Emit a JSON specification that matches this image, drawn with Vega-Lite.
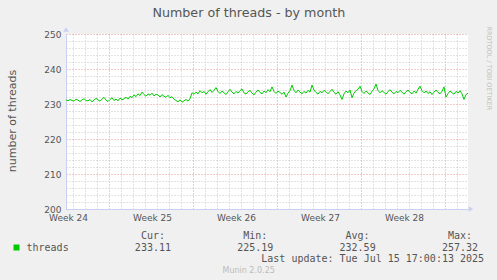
{
"$schema": "https://vega.github.io/schema/vega-lite/v6.json",
"background": "#f0f0f0",
"padding": {"left": 6, "top": 7, "right": 5, "bottom": 5},
"title": {"text": "Number of threads - by month", "font": "DejaVu Sans", "fontSize": 12.7, "fontWeight": "normal", "color": "#555555", "anchor": "middle", "offset": 6},
"datasets": {
"threads": [
{"t":"2025-06-12T10:00Z","v":231.2},{"t":"2025-06-12T14:00Z","v":230.9},{"t":"2025-06-12T18:00Z","v":231.3},{"t":"2025-06-12T22:00Z","v":231.0},
{"t":"2025-06-13T02:00Z","v":230.8},{"t":"2025-06-13T06:00Z","v":231.4},{"t":"2025-06-13T10:00Z","v":231.1},{"t":"2025-06-13T14:00Z","v":230.7},{"t":"2025-06-13T18:00Z","v":231.2},{"t":"2025-06-13T22:00Z","v":231.5},
{"t":"2025-06-14T02:00Z","v":231.0},{"t":"2025-06-14T06:00Z","v":230.9},{"t":"2025-06-14T10:00Z","v":231.3},{"t":"2025-06-14T14:00Z","v":230.6},{"t":"2025-06-14T18:00Z","v":231.1},{"t":"2025-06-14T22:00Z","v":231.6},
{"t":"2025-06-15T02:00Z","v":231.2},{"t":"2025-06-15T06:00Z","v":230.8},{"t":"2025-06-15T10:00Z","v":231.4},{"t":"2025-06-15T14:00Z","v":231.9},{"t":"2025-06-15T18:00Z","v":231.1},{"t":"2025-06-15T22:00Z","v":230.7},
{"t":"2025-06-16T02:00Z","v":231.3},{"t":"2025-06-16T06:00Z","v":231.8},{"t":"2025-06-16T10:00Z","v":231.0},{"t":"2025-06-16T14:00Z","v":231.4},{"t":"2025-06-16T18:00Z","v":230.9},{"t":"2025-06-16T22:00Z","v":231.7},
{"t":"2025-06-17T02:00Z","v":231.2},{"t":"2025-06-17T06:00Z","v":231.5},{"t":"2025-06-17T10:00Z","v":231.9},{"t":"2025-06-17T14:00Z","v":231.4},{"t":"2025-06-17T18:00Z","v":232.2},{"t":"2025-06-17T22:00Z","v":231.8},
{"t":"2025-06-18T02:00Z","v":232.6},{"t":"2025-06-18T06:00Z","v":232.1},{"t":"2025-06-18T10:00Z","v":232.9},{"t":"2025-06-18T14:00Z","v":232.4},{"t":"2025-06-18T18:00Z","v":233.4},{"t":"2025-06-18T22:00Z","v":232.7},
{"t":"2025-06-19T02:00Z","v":232.2},{"t":"2025-06-19T06:00Z","v":232.9},{"t":"2025-06-19T10:00Z","v":232.5},{"t":"2025-06-19T14:00Z","v":233.1},{"t":"2025-06-19T18:00Z","v":232.3},{"t":"2025-06-19T22:00Z","v":232.8},
{"t":"2025-06-20T02:00Z","v":232.6},{"t":"2025-06-20T06:00Z","v":232.0},{"t":"2025-06-20T10:00Z","v":232.7},{"t":"2025-06-20T14:00Z","v":232.2},{"t":"2025-06-20T18:00Z","v":231.9},{"t":"2025-06-20T22:00Z","v":232.5},
{"t":"2025-06-21T02:00Z","v":231.8},{"t":"2025-06-21T06:00Z","v":232.1},{"t":"2025-06-21T10:00Z","v":231.4},{"t":"2025-06-21T14:00Z","v":231.0},{"t":"2025-06-21T18:00Z","v":230.6},{"t":"2025-06-21T22:00Z","v":231.2},
{"t":"2025-06-22T02:00Z","v":230.5},{"t":"2025-06-22T06:00Z","v":230.9},{"t":"2025-06-22T10:00Z","v":231.3},{"t":"2025-06-22T14:00Z","v":230.8},{"t":"2025-06-22T18:00Z","v":231.5},{"t":"2025-06-22T22:00Z","v":233.2},
{"t":"2025-06-23T02:00Z","v":232.8},{"t":"2025-06-23T06:00Z","v":233.4},{"t":"2025-06-23T10:00Z","v":232.9},{"t":"2025-06-23T14:00Z","v":233.8},{"t":"2025-06-23T18:00Z","v":233.2},{"t":"2025-06-23T22:00Z","v":233.6},
{"t":"2025-06-24T02:00Z","v":232.8},{"t":"2025-06-24T06:00Z","v":233.5},{"t":"2025-06-24T10:00Z","v":234.1},{"t":"2025-06-24T14:00Z","v":233.3},{"t":"2025-06-24T18:00Z","v":233.9},{"t":"2025-06-24T22:00Z","v":234.7},
{"t":"2025-06-25T02:00Z","v":233.6},{"t":"2025-06-25T06:00Z","v":233.0},{"t":"2025-06-25T10:00Z","v":233.7},{"t":"2025-06-25T14:00Z","v":233.2},{"t":"2025-06-25T18:00Z","v":232.7},{"t":"2025-06-25T22:00Z","v":233.5},
{"t":"2025-06-26T02:00Z","v":234.2},{"t":"2025-06-26T06:00Z","v":233.4},{"t":"2025-06-26T10:00Z","v":232.9},{"t":"2025-06-26T14:00Z","v":233.6},{"t":"2025-06-26T18:00Z","v":233.1},{"t":"2025-06-26T22:00Z","v":233.8},
{"t":"2025-06-27T02:00Z","v":234.3},{"t":"2025-06-27T06:00Z","v":233.2},{"t":"2025-06-27T10:00Z","v":232.8},{"t":"2025-06-27T14:00Z","v":233.5},{"t":"2025-06-27T18:00Z","v":233.9},{"t":"2025-06-27T22:00Z","v":233.1},
{"t":"2025-06-28T02:00Z","v":232.6},{"t":"2025-06-28T06:00Z","v":233.4},{"t":"2025-06-28T10:00Z","v":234.0},{"t":"2025-06-28T14:00Z","v":233.3},{"t":"2025-06-28T18:00Z","v":232.9},{"t":"2025-06-28T22:00Z","v":233.7},
{"t":"2025-06-29T02:00Z","v":233.2},{"t":"2025-06-29T06:00Z","v":234.1},{"t":"2025-06-29T10:00Z","v":233.5},{"t":"2025-06-29T14:00Z","v":234.9},{"t":"2025-06-29T18:00Z","v":233.6},{"t":"2025-06-29T22:00Z","v":233.0},
{"t":"2025-06-30T02:00Z","v":233.7},{"t":"2025-06-30T06:00Z","v":233.3},{"t":"2025-06-30T10:00Z","v":232.8},{"t":"2025-06-30T14:00Z","v":233.4},{"t":"2025-06-30T18:00Z","v":232.0},{"t":"2025-06-30T22:00Z","v":233.1},
{"t":"2025-07-01T02:00Z","v":233.8},{"t":"2025-07-01T06:00Z","v":235.4},{"t":"2025-07-01T10:00Z","v":233.9},{"t":"2025-07-01T14:00Z","v":233.2},{"t":"2025-07-01T18:00Z","v":234.0},{"t":"2025-07-01T22:00Z","v":233.4},
{"t":"2025-07-02T02:00Z","v":232.9},{"t":"2025-07-02T06:00Z","v":233.6},{"t":"2025-07-02T10:00Z","v":233.1},{"t":"2025-07-02T14:00Z","v":233.9},{"t":"2025-07-02T18:00Z","v":233.4},{"t":"2025-07-02T22:00Z","v":235.4},
{"t":"2025-07-03T02:00Z","v":234.0},{"t":"2025-07-03T06:00Z","v":233.3},{"t":"2025-07-03T10:00Z","v":232.8},{"t":"2025-07-03T14:00Z","v":233.6},{"t":"2025-07-03T18:00Z","v":233.2},{"t":"2025-07-03T22:00Z","v":233.9},
{"t":"2025-07-04T02:00Z","v":233.5},{"t":"2025-07-04T06:00Z","v":232.9},{"t":"2025-07-04T10:00Z","v":233.6},{"t":"2025-07-04T14:00Z","v":234.2},{"t":"2025-07-04T18:00Z","v":233.3},{"t":"2025-07-04T22:00Z","v":232.8},
{"t":"2025-07-05T02:00Z","v":233.5},{"t":"2025-07-05T06:00Z","v":232.6},{"t":"2025-07-05T10:00Z","v":231.3},{"t":"2025-07-05T14:00Z","v":232.9},{"t":"2025-07-05T18:00Z","v":233.7},{"t":"2025-07-05T22:00Z","v":233.2},
{"t":"2025-07-06T02:00Z","v":234.0},{"t":"2025-07-06T06:00Z","v":231.8},{"t":"2025-07-06T10:00Z","v":233.1},{"t":"2025-07-06T14:00Z","v":233.8},{"t":"2025-07-06T18:00Z","v":234.2},{"t":"2025-07-06T22:00Z","v":235.1},
{"t":"2025-07-07T02:00Z","v":233.6},{"t":"2025-07-07T06:00Z","v":233.0},{"t":"2025-07-07T10:00Z","v":233.7},{"t":"2025-07-07T14:00Z","v":233.2},{"t":"2025-07-07T18:00Z","v":232.7},{"t":"2025-07-07T22:00Z","v":233.6},
{"t":"2025-07-08T02:00Z","v":234.3},{"t":"2025-07-08T06:00Z","v":235.7},{"t":"2025-07-08T10:00Z","v":233.9},{"t":"2025-07-08T14:00Z","v":233.2},{"t":"2025-07-08T18:00Z","v":233.8},{"t":"2025-07-08T22:00Z","v":233.3},
{"t":"2025-07-09T02:00Z","v":232.8},{"t":"2025-07-09T06:00Z","v":233.5},{"t":"2025-07-09T10:00Z","v":234.1},{"t":"2025-07-09T14:00Z","v":233.4},{"t":"2025-07-09T18:00Z","v":232.9},{"t":"2025-07-09T22:00Z","v":233.6},
{"t":"2025-07-10T02:00Z","v":233.2},{"t":"2025-07-10T06:00Z","v":233.9},{"t":"2025-07-10T10:00Z","v":233.4},{"t":"2025-07-10T14:00Z","v":232.8},{"t":"2025-07-10T18:00Z","v":233.5},{"t":"2025-07-10T22:00Z","v":234.0},
{"t":"2025-07-11T02:00Z","v":233.3},{"t":"2025-07-11T06:00Z","v":232.9},{"t":"2025-07-11T10:00Z","v":233.7},{"t":"2025-07-11T14:00Z","v":233.1},{"t":"2025-07-11T18:00Z","v":234.2},{"t":"2025-07-11T22:00Z","v":235.1},
{"t":"2025-07-12T02:00Z","v":233.8},{"t":"2025-07-12T06:00Z","v":233.2},{"t":"2025-07-12T10:00Z","v":233.7},{"t":"2025-07-12T14:00Z","v":233.0},{"t":"2025-07-12T18:00Z","v":233.5},{"t":"2025-07-12T22:00Z","v":232.7},
{"t":"2025-07-13T02:00Z","v":233.4},{"t":"2025-07-13T06:00Z","v":234.0},{"t":"2025-07-13T10:00Z","v":233.3},{"t":"2025-07-13T14:00Z","v":232.9},{"t":"2025-07-13T18:00Z","v":233.6},{"t":"2025-07-13T22:00Z","v":234.9},
{"t":"2025-07-14T02:00Z","v":232.0},{"t":"2025-07-14T06:00Z","v":233.0},{"t":"2025-07-14T10:00Z","v":233.7},{"t":"2025-07-14T14:00Z","v":233.2},{"t":"2025-07-14T18:00Z","v":232.8},{"t":"2025-07-14T22:00Z","v":233.6},
{"t":"2025-07-15T02:00Z","v":233.1},{"t":"2025-07-15T06:00Z","v":233.8},{"t":"2025-07-15T10:00Z","v":232.9},{"t":"2025-07-15T14:00Z","v":231.3},{"t":"2025-07-15T18:00Z","v":232.7},{"t":"2025-07-15T22:00Z","v":233.1}
],
"axisArrowY": [{"t": "2025-06-12T10:00Z", "v": 251.3}],
"axisArrowX": [{"t": "2025-07-16T04:00Z", "v": 200}],
"legendCells": [
{"line": 1, "col": 19, "text": "Cur:"},
{"line": 1, "col": 36, "text": "Min:"},
{"line": 1, "col": 53, "text": "Avg:"},
{"line": 1, "col": 70, "text": "Max:"},
{"line": 2, "col": 0, "text": "threads"},
{"line": 2, "col": 18, "text": "233.11"},
{"line": 2, "col": 35, "text": "225.19"},
{"line": 2, "col": 52, "text": "232.59"},
{"line": 2, "col": 69, "text": "257.32"},
{"line": 3, "col": 39, "text": "Last update: Tue Jul 15 17:00:13 2025"}
],
"swatch": [{"line": 2, "col": -1.66, "series": "threads"}],
"credit": [{"line": 4, "col": 36.9, "text": "Munin 2.0.25"}]
},
"spacing": 8,
"vconcat": [
{
"width": 402,
"height": 175,
"view": {"fill": "#ffffff", "stroke": null},
"resolve": {"axis": {"y": "independent"}},
"layer": [
{
"data": {"name": "threads"},
"mark": {"type": "line", "color": "#00cc00", "strokeWidth": 1},
"encoding": {
"x": {"field": "t", "type": "temporal", "title": null,
"scale": {"type": "utc", "domain": [{"year": 2025, "month": 6, "date": 12, "hours": 10, "utc": true}, {"year": 2025, "month": 7, "date": 15, "hours": 22, "utc": true}]},
"axis": {"tickCount": {"interval": "day", "step": 1}, "grid": true, "gridDash": [1, 2],
"gridColor": {"condition": {"test": "utcday(datum.value) == 1", "value": "#e29696"}, "value": "#c6c6c6"},
"ticks": false,
"labelExpr": "utcday(datum.value) == 5 ? 'Week ' + (24 + floor((datum.value - utc(2025, 5, 9)) / 604800000)) : ''",
"labelOffset": -5, "labelPadding": 4, "labelOverlap": false, "labelFlush": false, "labelBound": false,
"labelFont": "DejaVu Sans", "labelFontSize": 9, "labelColor": "#555555",
"domainColor": "#c8d0f4", "domainWidth": 1}},
"y": {"field": "v", "type": "quantitative", "title": "number of threads",
"scale": {"domain": [200, 250], "nice": false, "zero": false},
"axis": {"values": [200,202,204,206,208,210,212,214,216,218,220,222,224,226,228,230,232,234,236,238,240,242,244,246,248,250],
"grid": true, "gridDash": [1, 2],
"gridColor": {"condition": {"test": "datum.value % 10 == 0", "value": "#e29696"}, "value": "#c6c6c6"},
"ticks": false,
"labelExpr": "datum.value % 10 == 0 ? datum.label : ''",
"labelPadding": 5, "labelOverlap": false, "labelFont": "DejaVu Sans", "labelFontSize": 9, "labelColor": "#555555",
"domainColor": "#c8d0f4", "domainWidth": 1,
"titleFont": "DejaVu Sans", "titleFontSize": 11, "titleFontWeight": "normal", "titleColor": "#555555",
"titleAngle": 270, "titleX": -51, "titleY": 86.5, "titleAlign": "center", "titleBaseline": "alphabetic"}}
}
},
{
"data": {"name": "axisArrowY"},
"mark": {"type": "point", "shape": "triangle-up", "filled": true, "size": 30, "color": "#c8d0f4", "opacity": 1},
"encoding": {
"x": {"field": "t", "type": "temporal", "title": null, "scale": {"type": "utc"}},
"y": {"field": "v", "type": "quantitative", "title": "RRDTOOL / TOBI OETIKER",
"axis": {"orient": "right", "labels": false, "ticks": false, "domain": false, "grid": false,
"titleFont": "DejaVu Sans", "titleFontSize": 6.5, "titleFontWeight": "normal", "titleColor": "#c0c0c0",
"titleAngle": 90, "titleX": 18.7, "titleY": -8, "titleAlign": "left", "titleBaseline": "alphabetic"}}
}
},
{
"data": {"name": "axisArrowX"},
"mark": {"type": "point", "shape": "triangle-right", "filled": true, "size": 30, "color": "#c8d0f4", "opacity": 1},
"encoding": {
"x": {"field": "t", "type": "temporal", "title": null, "scale": {"type": "utc"}},
"y": {"field": "v", "type": "quantitative", "axis": null}
}
}
]
},
{
"width": 402,
"height": 46.7,
"view": {"stroke": null},
"layer": [
{
"data": {"name": "legendCells"},
"mark": {"type": "text", "font": "DejaVu Sans Mono", "fontSize": 10, "align": "left", "baseline": "middle", "color": "#555555"},
"encoding": {
"x": {"field": "col", "type": "quantitative", "scale": {"domain": [6.561, 73.339], "nice": false, "zero": false}, "axis": null},
"y": {"field": "line", "type": "quantitative", "scale": {"domain": [0.5, 4.5], "reverse": true, "nice": false, "zero": false}, "axis": null},
"text": {"field": "text"}
}
},
{
"data": {"name": "credit"},
"mark": {"type": "text", "font": "DejaVu Sans", "fontSize": 8, "align": "center", "baseline": "middle", "color": "#bbbbbb"},
"encoding": {
"x": {"field": "col", "type": "quantitative", "scale": {"domain": [6.561, 73.339], "nice": false, "zero": false}, "axis": null},
"y": {"field": "line", "type": "quantitative", "scale": {"domain": [0.5, 4.5], "reverse": true, "nice": false, "zero": false}, "axis": null},
"text": {"field": "text"}
}
},
{
"data": {"name": "swatch"},
"mark": {"type": "point", "shape": "square", "filled": true, "size": 36, "color": "#00cc00", "opacity": 1, "strokeWidth": 0},
"encoding": {
"x": {"field": "col", "type": "quantitative", "scale": {"domain": [6.561, 73.339], "nice": false, "zero": false}, "axis": null},
"y": {"field": "line", "type": "quantitative", "scale": {"domain": [0.5, 4.5], "reverse": true, "nice": false, "zero": false}, "axis": null}
}
}
]
}
]
}
